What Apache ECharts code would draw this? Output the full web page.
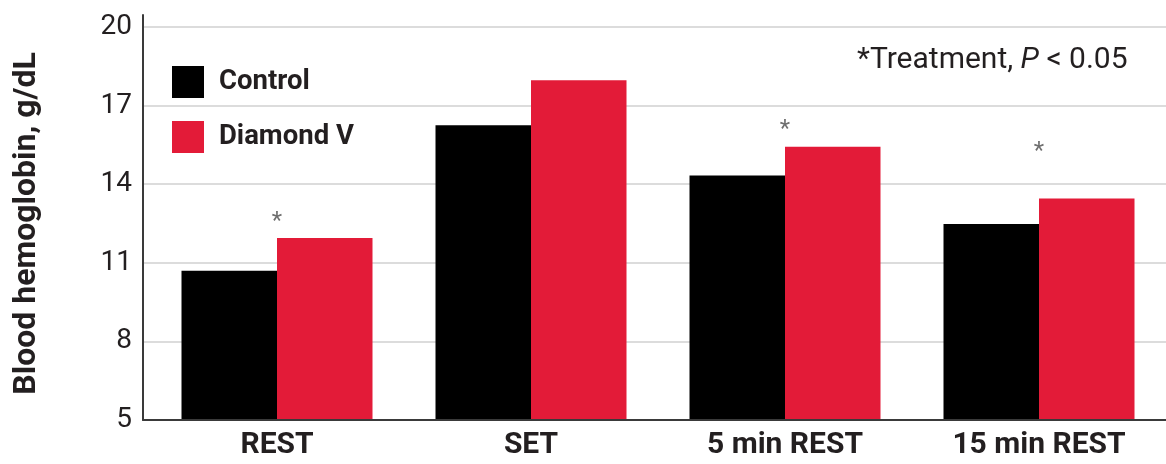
<!DOCTYPE html>
<html>
<head>
<meta charset="utf-8">
<script src="https://cdn.jsdelivr.net/npm/echarts@6/dist/echarts.min.js"></script>
<style>
html,body{margin:0;padding:0;background:#fff;}
#chart{width:1166px;height:464px;}
</style>
</head>
<body>
<div id="chart"></div>
<script>
const categories = ['REST', 'SET', '5 min REST', '15 min REST'];
const controlValues = [10.7, 16.25, 14.33, 12.48];
const diamondValues = [11.95, 17.97, 15.43, 13.45];
// asterisk (significance) marker heights; '-' = none
const asteriskValues = [12.75, '-', 16.27, 15.42];
const yTicks = [5, 8, 11, 14, 17, 20];
const yName = 'Blood hemoglobin, g/dL';

const FONT = 'Roboto, "Open Sans", sans-serif';
const TEXT = '#231f20';

const chart = echarts.init(document.getElementById('chart'), null, {renderer: 'canvas'});
chart.setOption({
  backgroundColor: '#ffffff',
  animation: false,
  textStyle: {fontFamily: FONT},
  title: {
    left: 852, top: 40,
    text: '{a|*Treatment, }{i|P}{a| < 0.05}',
    textStyle: {
      fontWeight: 'normal',
      rich: {
        a: {fontFamily: FONT, fontSize: 30, fontWeight: 'normal', color: TEXT},
        i: {fontFamily: FONT, fontSize: 30, fontWeight: 'normal', color: TEXT, fontStyle: 'italic'}
      }
    }
  },
  legend: {
    orient: 'vertical', left: 167, top: 61,
    itemWidth: 32, itemHeight: 32, itemGap: 23,
    icon: 'rect',
    data: ['Control', 'Diamond V'],
    textStyle: {fontFamily: FONT, fontSize: 27.5, fontWeight: 'bold', color: TEXT, padding: [0, 0, 0, 10]}
  },
  grid: [
    {left: 143, right: -5, top: 15, bottom: 44},
    {left: 143, right: -5, top: 27, bottom: 44},
    {left: 150, right: -6, top: 27, bottom: 44}
  ],
  xAxis: [
    {gridIndex: 0, type: 'value', min: 0, max: 1, z: 5,
     axisLine: {show: true, lineStyle: {color: '#3a3a3a', width: 2}},
     axisTick: {show: false}, axisLabel: {show: false}, splitLine: {show: false}},
    {gridIndex: 1, type: 'value', min: 0, max: 1, show: false},
    {gridIndex: 2, type: 'category', data: categories,
     axisLine: {show: false}, axisTick: {show: false},
     axisLabel: {fontFamily: FONT, fontSize: 30, fontWeight: 'bold', color: TEXT, margin: 10}}
  ],
  yAxis: [
    {gridIndex: 0, type: 'value', min: 0, max: 1, z: 5,
     axisLine: {show: true, lineStyle: {color: '#3a3a3a', width: 2}},
     axisTick: {show: false}, axisLabel: {show: false}, splitLine: {show: false}},
    {gridIndex: 1, type: 'value', min: yTicks[0], max: yTicks[yTicks.length - 1], interval: yTicks[1] - yTicks[0],
     axisLine: {show: false}, axisTick: {show: false},
     axisLabel: {fontFamily: FONT, fontSize: 28, color: TEXT, margin: 11},
     splitLine: {show: true, lineStyle: {color: '#dcdcdc', width: 2}},
     name: yName, nameLocation: 'middle', nameGap: 100, nameRotate: 90,
     nameTextStyle: {fontFamily: FONT, fontSize: 32, fontWeight: 'bold', color: TEXT}},
    {gridIndex: 2, type: 'value', min: yTicks[0], max: yTicks[yTicks.length - 1], show: false}
  ],
  series: [
    {name: 'Control', type: 'bar', xAxisIndex: 2, yAxisIndex: 2, data: controlValues,
     barWidth: 95.5, barGap: '0%', itemStyle: {color: '#000000'}},
    {name: 'Diamond V', type: 'bar', xAxisIndex: 2, yAxisIndex: 2, data: diamondValues,
     barWidth: 95.5, barGap: '0%', itemStyle: {color: '#e31b38'}},
    {name: 'sig', type: 'scatter', xAxisIndex: 2, yAxisIndex: 2, data: asteriskValues,
     symbolSize: 0, silent: true,
     label: {show: true, formatter: '*', position: 'inside', fontFamily: FONT, fontSize: 24, color: '#4a4a4a', offset: [0, 5]}}
  ]
});
</script>
</body>
</html>
